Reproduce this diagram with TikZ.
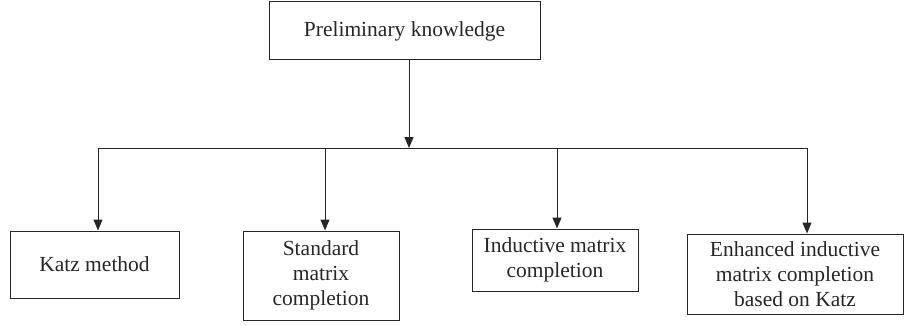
\documentclass[tikz,border=0pt]{standalone}
\usepackage{fontspec}
\setmainfont{Liberation Serif}
\usetikzlibrary{arrows.meta}
\begin{document}
\begin{tikzpicture}[x=1pt,y=-1pt,
  box/.style={draw=black!85,line width=1pt,rectangle,align=center,inner sep=0pt,
    font=\fontsize{21.5}{25}\selectfont,text=black!85},
  arr/.style={line width=1pt,draw=black!85,-{Triangle[length=11pt,width=9pt]}},
  bus/.style={line width=1pt,draw=black!85}]
\useasboundingbox (0,0) rectangle (904,326);
\node[box,minimum width=271pt,minimum height=58pt] (top) at (404.5,31) {Preliminary knowledge};
\node[box,minimum width=169pt,minimum height=67pt] (katz) at (94.5,264.5) {Katz method};
\node[box,minimum width=156pt,minimum height=89pt] (std) at (321,275.5) {Standard\\matrix\\completion};
\node[box,minimum width=166pt,minimum height=62pt] (ind) at (555,260) {Inductive matrix\\completion};
\node[box,minimum width=216pt,minimum height=80pt] (enh) at (795,274) {Enhanced inductive\\matrix completion\\based on Katz};
\coordinate (hub) at (409,148);
\coordinate (b1) at (98,148);
\coordinate (b2) at (325,148);
\coordinate (b3) at (557,148);
\coordinate (b4) at (807,148);
\draw[arr] (top.south -| hub) -- (hub);
\draw[bus] (b1) -- (b4);
\draw[arr] (b1) -- (katz.north -| b1);
\draw[arr] (b2) -- (std.north -| b2);
\draw[arr] (b3) -- (ind.north -| b3);
\draw[arr] (b4) -- (enh.north -| b4);
\end{tikzpicture}
\end{document}
